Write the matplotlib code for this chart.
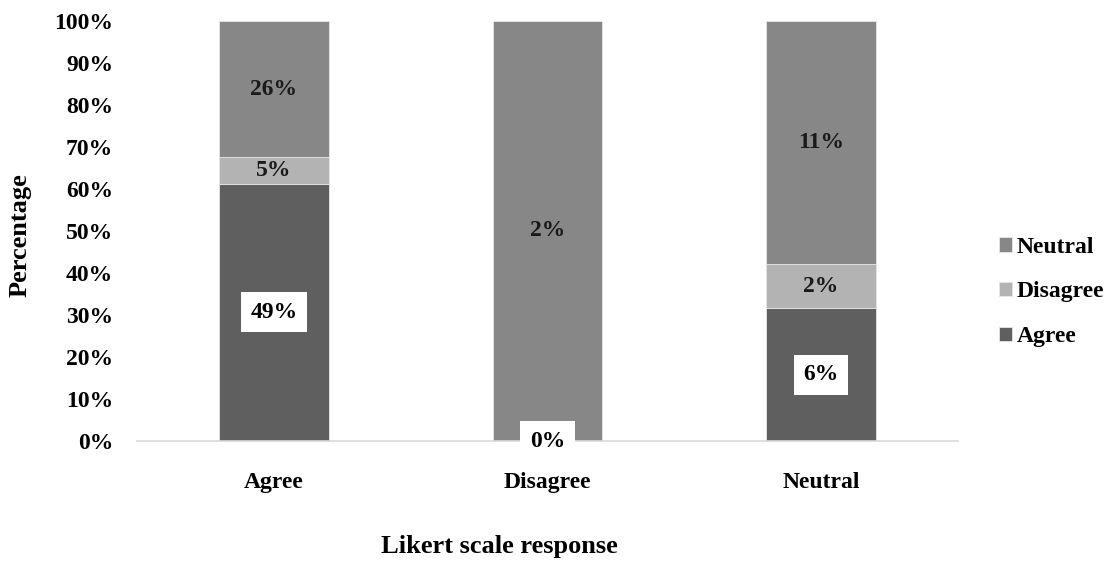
import matplotlib.pyplot as plt
import numpy as np

# Likert responses: share of total sample in each group (labels), stacked to 100% per column
categories = ['Agree', 'Disagree', 'Neutral']
series = ['Agree', 'Disagree', 'Neutral']
agree = [49, 0, 6]
disagree = [5, 0, 2]
neutral = [26, 2, 11]

colors = {'Agree': '#5f5f5f', 'Disagree': '#b3b3b3', 'Neutral': '#878787'}

plt.rcParams['font.family'] = ['Liberation Serif', 'DejaVu Serif']
plt.rcParams['font.weight'] = 'bold'

values = np.array([agree, disagree, neutral], dtype=float)
totals = values.sum(axis=0)
shares = values / totals * 100

fig = plt.figure(figsize=(11.1, 5.61), dpi=100)
ax = fig.add_axes([0.1234, 0.2139, 0.7396, 0.7487])

x = np.arange(len(categories))
bottom = np.zeros(len(categories))
handles = []
for i, name in enumerate(series):
    bars = ax.bar(x, shares[i], 0.40, bottom=bottom, color=colors[name],
                  edgecolor='#e6e6e6', linewidth=0.6, label=name)
    handles.append(bars)
    for j in range(len(categories)):
        if values[i, j] == 0 and name != 'Agree':
            continue
        y = bottom[j] + shares[i, j] / 2
        txt = f'{int(values[i, j])}%'
        if name == 'Agree':
            ax.text(x[j], y, txt, ha='center', va='center', fontsize=17,
                    fontweight='bold', color='black', zorder=5,
                    bbox=dict(boxstyle='square,pad=0.4', fc='white', ec='none'))
        else:
            ax.text(x[j], y, txt, ha='center', va='center', fontsize=17,
                    fontweight='bold', color='#1a1a1a', zorder=5)
    bottom += shares[i]

ax.set_xlim(-0.5, 2.5)
ax.set_ylim(0, 100)
ax.set_yticks(np.arange(0, 101, 10))
ax.set_yticklabels([f'{v}%' for v in range(0, 101, 10)], fontsize=17, fontweight='bold')
ax.set_xticks(x)
ax.set_xticklabels(categories, fontsize=17, fontweight='bold')
ax.tick_params(axis='both', length=0)
ax.tick_params(axis='y', pad=17)
ax.tick_params(axis='x', pad=22)

for side in ['top', 'right', 'left']:
    ax.spines[side].set_visible(False)
ax.spines['bottom'].set_color('#d9d9d9')
ax.spines['bottom'].set_linewidth(1.2)

ax.set_ylabel('Percentage', fontsize=19, fontweight='bold')
ax.set_xlabel('Likert scale response', fontsize=19, fontweight='bold')
ax.yaxis.set_label_coords(-0.1425, 0.49)
ax.yaxis.label.set_va('center')
ax.xaxis.set_label_coords(0.442, -0.252)
ax.xaxis.label.set_va('center')

leg = ax.legend(handles[::-1], series[::-1], loc='center left',
                bbox_to_anchor=(1.024, 0.355), frameon=False,
                handlelength=0.55, handleheight=0.55, handletextpad=0.2,
                labelspacing=1.0, prop={'weight': 'bold', 'size': 17})

fig.savefig('out.png', dpi=100)
